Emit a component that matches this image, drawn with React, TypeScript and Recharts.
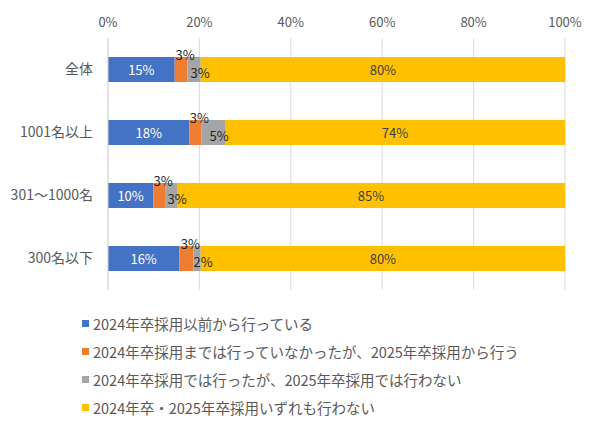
import { BarChart, Bar, XAxis, YAxis, CartesianGrid, LabelList, Legend } from 'recharts';

const categories = ['全体', '1001名以上', '301～1000名', '300名以下'];
const before = [14.6, 17.8, 9.9, 15.6];
const startNow = [2.8, 2.6, 2.6, 3.1];
const stopNow = [2.9, 5.2, 2.6, 1.6];
const neither = [79.7, 74.4, 84.9, 79.7];
const xTicks = [0, 20, 40, 60, 80, 100];

const seriesNames = [
  '2024年卒採用以前から行っている',
  '2024年卒採用までは行っていなかったが、2025年卒採用から行う',
  '2024年卒採用では行ったが、2025年卒採用では行わない',
  '2024年卒・2025年卒採用いずれも行わない',
];
const colors = ['#4472C4', '#ED7D31', '#A5A5A5', '#FFC000'];

const data = categories.map((name, i) => ({
  name,
  before: before[i],
  startNow: startNow[i],
  stopNow: stopNow[i],
  neither: neither[i],
}));

const FONT = '"Noto Sans CJK JP", "Noto Sans", sans-serif';
const pct = (v: any) => `${Math.round(Number(v))}%`;

const makeLabel = (mode: 'center' | 'above' | 'gray', fill: string) => (props: any) => {
  const vb = props.viewBox || props;
  const { x, y, width, height } = vb;
  let lx = x + width / 2;
  let ly = y + height / 2;
  if (mode === 'above') {
    lx += 4;
    ly = y - 3;
  } else if (mode === 'gray') {
    lx += 6;
    ly += 3;
  }
  return (
    <text x={lx} y={ly} textAnchor="middle" dominantBaseline="central" fontSize={13} fill={fill} fontFamily={FONT}>
      {pct(props.value)}
    </text>
  );
};

const LegendBox = () => (
  <div style={{ fontFamily: FONT, fontSize: 14.5, color: '#595959' }}>
    {seriesNames.map((n, i) => (
      <div key={n} style={{ display: 'flex', alignItems: 'center', height: 28, whiteSpace: 'nowrap' }}>
        <span style={{ width: 7, height: 7, background: colors[i], marginRight: 4, display: 'inline-block' }} />
        <span>{n}</span>
      </div>
    ))}
  </div>
);

const App = () => (
  <div style={{ position: 'absolute', left: 0, top: 0, background: '#fff' }}>
    <BarChart
      width={600}
      height={430}
      data={data}
      layout="vertical"
      barSize={25}
      margin={{ top: 8, right: 35, bottom: 140, left: 0 }}
    >
      <CartesianGrid horizontal={false} stroke="#d9d9d9" />
      <XAxis
        type="number"
        orientation="top"
        domain={[0, 100]}
        ticks={xTicks}
        tickFormatter={(v) => `${v}%`}
        axisLine={false}
        tickLine={false}
        tickMargin={5}
        tick={{ fontSize: 13, fill: '#595959', fontFamily: FONT }}
        height={30}
      />
      <YAxis
        type="category"
        dataKey="name"
        width={108}
        axisLine={{ stroke: '#d9d9d9' }}
        tickLine={false}
        tickMargin={9}
        tick={{ fontSize: 14, fill: '#595959', fontFamily: FONT }}
      />
      <Legend
        layout="vertical"
        align="center"
        verticalAlign="middle"
        content={<LegendBox />}
        wrapperStyle={{ left: 82, top: 309, width: 510 }}
      />
      <Bar dataKey="before" stackId="a" fill={colors[0]} isAnimationActive={false}>
        <LabelList dataKey="before" content={makeLabel('center', '#ffffff')} />
      </Bar>
      <Bar dataKey="startNow" stackId="a" fill={colors[1]} isAnimationActive={false}>
        <LabelList dataKey="startNow" content={makeLabel('above', '#262626')} />
      </Bar>
      <Bar dataKey="stopNow" stackId="a" fill={colors[2]} isAnimationActive={false}>
        <LabelList dataKey="stopNow" content={makeLabel('gray', '#262626')} />
      </Bar>
      <Bar dataKey="neither" stackId="a" fill={colors[3]} isAnimationActive={false}>
        <LabelList dataKey="neither" content={makeLabel('center', '#404040')} />
      </Bar>
    </BarChart>
  </div>
);

export default App;
